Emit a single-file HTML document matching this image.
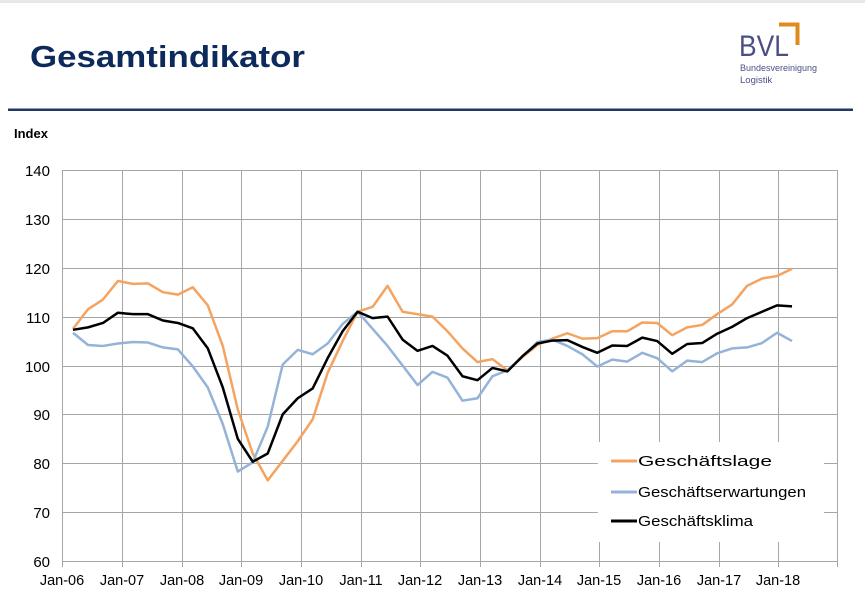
<!DOCTYPE html>
<html><head><meta charset="utf-8"><style>
body{margin:0;background:#fff;width:865px;height:599px;overflow:hidden;font-family:"Liberation Sans",sans-serif}
</style></head><body>
<svg width="865" height="599" xmlns="http://www.w3.org/2000/svg" style="position:absolute;left:0;top:0">
<rect x="0" y="0" width="865" height="3" fill="#e8e8e8"/>
<text x="30" y="67" font-family="Liberation Sans, sans-serif" font-weight="bold" font-size="31" fill="#0d2a5c" textLength="275" lengthAdjust="spacingAndGlyphs">Gesamtindikator</text>
<text x="739" y="56" font-family="Liberation Sans, sans-serif" font-size="30" fill="#4b4f86" textLength="50" lengthAdjust="spacingAndGlyphs">BVL</text>
<polyline points="779,24.5 797.5,24.5 797.5,45" fill="none" stroke="#e08a1e" stroke-width="4"/>
<text x="740" y="71" font-family="Liberation Sans, sans-serif" font-size="9.5" fill="#4b4f86" textLength="77" lengthAdjust="spacingAndGlyphs">Bundesvereinigung</text>
<text x="740" y="83" font-family="Liberation Sans, sans-serif" font-size="9.5" fill="#4b4f86">Logistik</text>
<rect x="8" y="108.5" width="845" height="2.5" fill="#1f3864"/>
<text x="14" y="138" font-family="Liberation Sans, sans-serif" font-weight="bold" font-size="13" fill="#000">Index</text>
<g stroke="#a6a6a6" stroke-width="1">
<line x1="62" y1="170.5" x2="837" y2="170.5"/><line x1="62" y1="219.5" x2="837" y2="219.5"/><line x1="62" y1="268.5" x2="837" y2="268.5"/><line x1="62" y1="317.5" x2="837" y2="317.5"/><line x1="62" y1="366.5" x2="837" y2="366.5"/><line x1="62" y1="414.5" x2="837" y2="414.5"/><line x1="62" y1="463.5" x2="837" y2="463.5"/><line x1="62" y1="512.5" x2="837" y2="512.5"/><line x1="62" y1="561.5" x2="837" y2="561.5"/>
<line x1="62.5" y1="170" x2="62.5" y2="567"/><line x1="122.5" y1="170" x2="122.5" y2="567"/><line x1="182.5" y1="170" x2="182.5" y2="567"/><line x1="241.5" y1="170" x2="241.5" y2="567"/><line x1="301.5" y1="170" x2="301.5" y2="567"/><line x1="361.5" y1="170" x2="361.5" y2="567"/><line x1="420.5" y1="170" x2="420.5" y2="567"/><line x1="480.5" y1="170" x2="480.5" y2="567"/><line x1="540.5" y1="170" x2="540.5" y2="567"/><line x1="599.5" y1="170" x2="599.5" y2="567"/><line x1="659.5" y1="170" x2="659.5" y2="567"/><line x1="719.5" y1="170" x2="719.5" y2="567"/><line x1="778.5" y1="170" x2="778.5" y2="567"/><line x1="837.5" y1="170" x2="837.5" y2="567"/>
</g>
<g font-family="Liberation Sans, sans-serif" font-size="15" fill="#000" text-anchor="end">
<text x="50" y="176">140</text><text x="50" y="225">130</text><text x="50" y="274">120</text><text x="50" y="323">110</text><text x="50" y="372">100</text><text x="50" y="420">90</text><text x="50" y="469">80</text><text x="50" y="518">70</text><text x="50" y="567">60</text>
</g>
<g font-family="Liberation Sans, sans-serif" font-size="14.5" fill="#000" text-anchor="middle">
<text x="62" y="585">Jan-06</text><text x="122" y="585">Jan-07</text><text x="182" y="585">Jan-08</text><text x="241" y="585">Jan-09</text><text x="301" y="585">Jan-10</text><text x="361" y="585">Jan-11</text><text x="420" y="585">Jan-12</text><text x="480" y="585">Jan-13</text><text x="540" y="585">Jan-14</text><text x="599" y="585">Jan-15</text><text x="659" y="585">Jan-16</text><text x="719" y="585">Jan-17</text><text x="778" y="585">Jan-18</text>
</g>
<g transform="translate(73,561) scale(14.98,-4.8875) translate(0,-60)" fill="none" stroke-linejoin="round">
<polyline vector-effect="non-scaling-stroke" stroke="#f4a460" stroke-width="2.5" points="0,107.5 1,111.5 2,113.5 3,117.3 4,116.7 5,116.8 6,115 7,114.5 8,116 9,112.3 10,104 11,91 12,82 13,76.5 14,80.5 15,84.5 16,89 17,98.5 18,105 19,111 20,112 21,116.3 22,111 23,110.5 24,110 25,107 26,103.5 27,100.7 28,101.3 29,99 30,101.7 31,104.2 32,105.5 33,106.6 34,105.5 35,105.6 36,107 37,107 38,108.8 39,108.7 40,106.2 41,107.8 42,108.3 43,110.5 44,112.5 45,116.3 46,117.8 47,118.3 48,119.8"/>
<polyline vector-effect="non-scaling-stroke" stroke="#95b3d7" stroke-width="2.5" points="0,106.7 1,104.2 2,104 3,104.5 4,104.8 5,104.7 6,103.7 7,103.3 8,99.8 9,95.5 10,88 11,78.3 12,80.2 13,87.5 14,100.2 15,103.2 16,102.3 17,104.5 18,108.5 19,111 20,107.5 21,104 22,100 23,96 24,98.7 25,97.5 26,92.8 27,93.3 28,97.8 29,99 30,101.8 31,104.8 32,105.3 33,104 34,102.3 35,99.8 36,101.2 37,100.8 38,102.6 39,101.5 40,98.8 41,101 42,100.7 43,102.5 44,103.5 45,103.7 46,104.6 47,106.7 48,105"/>
<polyline vector-effect="non-scaling-stroke" stroke="#000" stroke-width="2.5" points="0,107.3 1,107.8 2,108.7 3,110.8 4,110.5 5,110.5 6,109.2 7,108.7 8,107.6 9,103.5 10,95.5 11,85 12,80.3 13,82 14,90 15,93.3 16,95.3 17,101.5 18,107 19,111 20,109.7 21,110 22,105.3 23,103 24,104 25,102 26,97.8 27,97 28,99.5 29,98.8 30,101.9 31,104.5 32,105.1 33,105.2 34,103.8 35,102.6 36,104.1 37,104 38,105.7 39,105 40,102.4 41,104.4 42,104.6 43,106.5 44,107.9 45,109.7 46,111 47,112.3 48,112.1"/>
</g>
<rect x="598" y="442" width="226" height="100" fill="#fff"/>
<g stroke-width="3"><line x1="611" y1="461" x2="637" y2="461" stroke="#f4a460"/><line x1="611" y1="492" x2="637" y2="492" stroke="#95b3d7"/><line x1="611" y1="521" x2="637" y2="521" stroke="#000"/></g>
<g font-family="Liberation Sans, sans-serif" font-size="15" fill="#000">
<text x="638" y="466" textLength="134" lengthAdjust="spacingAndGlyphs">Geschäftslage</text><text x="638" y="497" textLength="168" lengthAdjust="spacingAndGlyphs">Geschäftserwartungen</text><text x="638" y="526" textLength="115" lengthAdjust="spacingAndGlyphs">Geschäftsklima</text>
</g>
</svg>
</body></html>
